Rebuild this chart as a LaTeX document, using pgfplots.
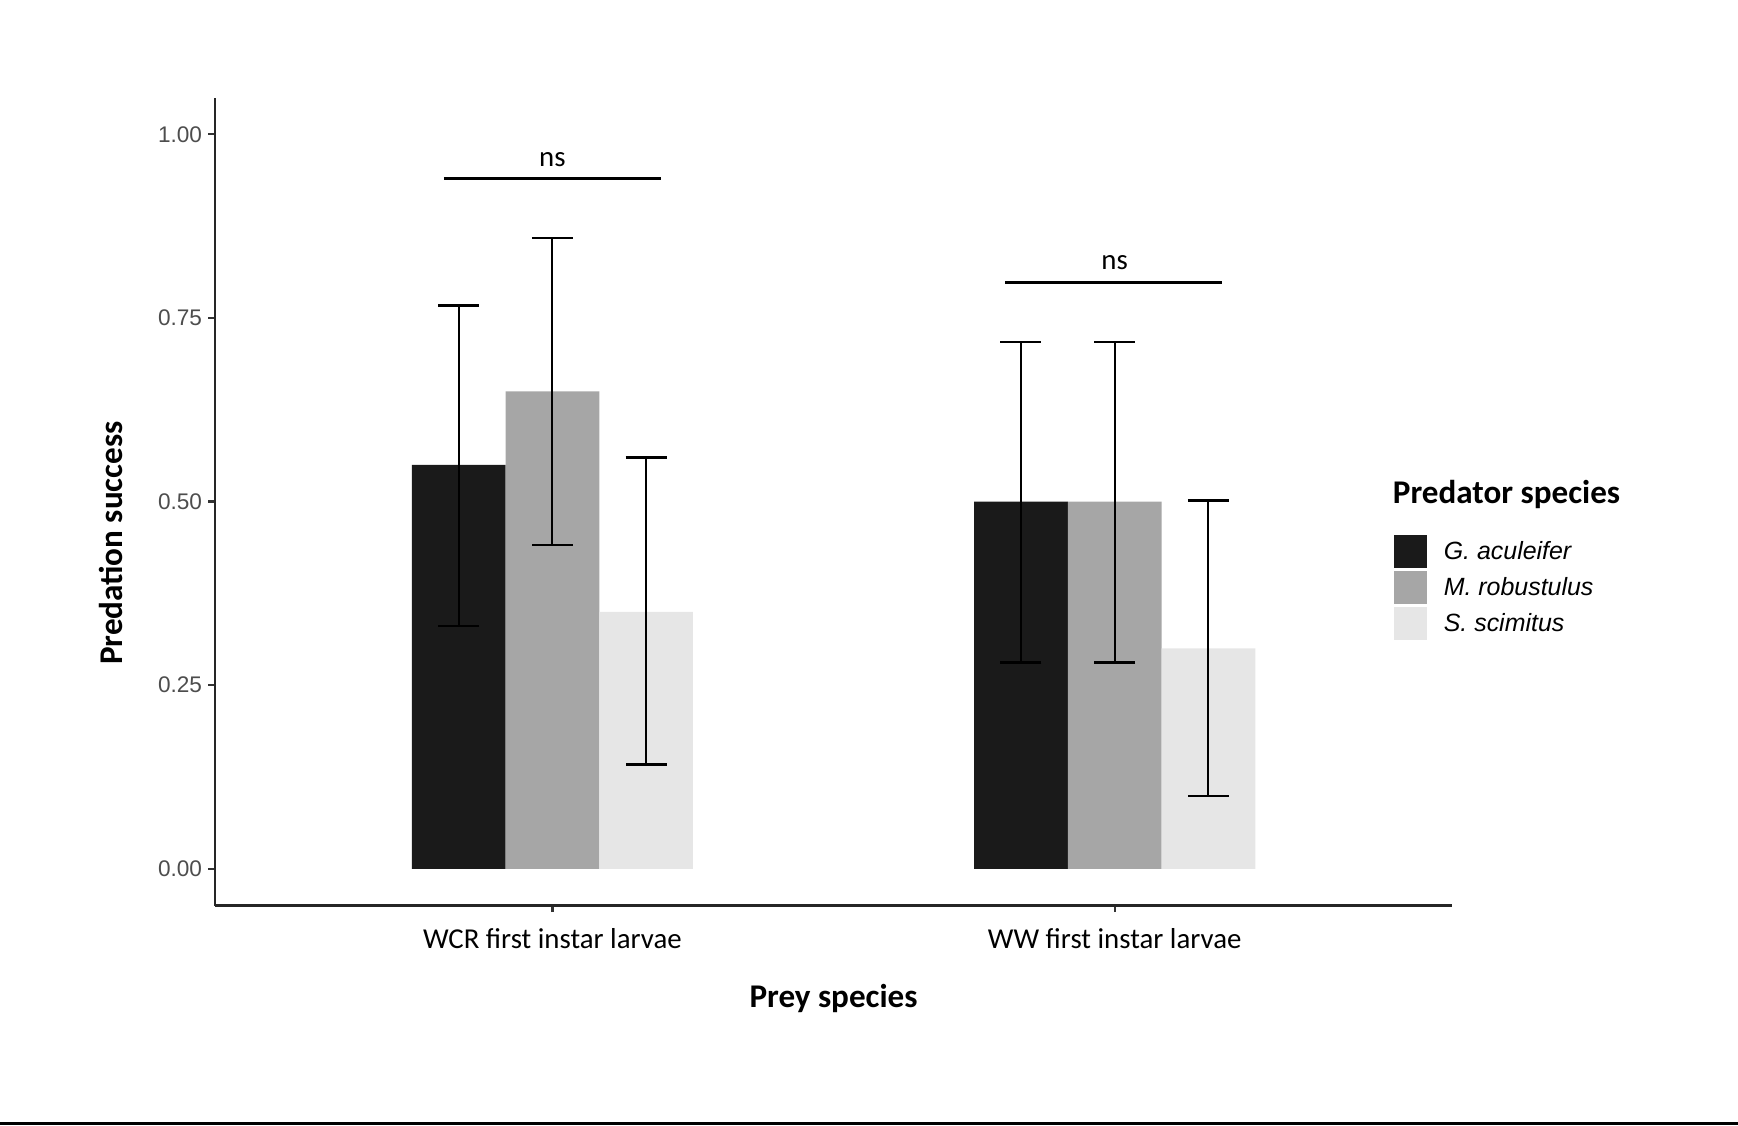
\documentclass[border=0pt]{standalone}
\usepackage{pgfplots}
\pgfplotsset{compat=1.18}
\usepackage{fontspec}
\setmainfont{Carlito}
\newfontfamily\arial{Liberation Sans}
\definecolor{cG}{HTML}{1A1A1A}
\definecolor{cM}{HTML}{A6A6A6}
\definecolor{cS}{HTML}{E6E6E6}
\definecolor{tickgray}{HTML}{4D4D4D}

\pgfplotstableread{
x y ep em
0.83333 0.55 0.217 0.219
1.83333 0.50 0.2175 0.219
}\tabG
\pgfplotstableread{
x y ep em
1 0.65 0.209 0.209
2 0.50 0.2175 0.219
}\tabM
\pgfplotstableread{
x y ep em
1.16667 0.35 0.210 0.208
2.16667 0.30 0.2015 0.2003
}\tabS

\begin{document}
\begin{tikzpicture}[x=1cm,y=1cm]
\useasboundingbox (0,0) rectangle (15.68,10.15);
\draw[black, line width=0.9pt] (0,0.015) -- (15.68,0.015);
\begin{axis}[
  at={(1.94cm,1.98cm)}, anchor=south west,
  scale only axis, width=11.16cm, height=7.29cm,
  xmin=0.4, xmax=2.6, ymin=-0.05, ymax=1.05,
  axis lines=left,
  axis line style={-, line width=0.6pt, black!85},
  xtick={1,2},
  xticklabels={WCR first instar larvae, WW first instar larvae},
  ytick={0,0.25,0.5,0.75,1},
  tick align=outside,
  major tick length=0.06cm,
  tick style={line width=0.6pt, black!80},
  /pgf/number format/.cd, fixed, fixed zerofill, precision=2, assume math mode=true,
  /pgfplots/.cd,
  yticklabel style={font=\arial\fontsize{5.8}{7}\selectfont, text=tickgray, inner sep=0pt, xshift=-0.05cm},
  xticklabel style={font=\fontsize{7.4}{9}\selectfont, text=black, yshift=-0.02cm},
  xlabel={Prey species},
  ylabel={Predation success},
  xlabel style={at={(axis description cs:0.5,-0.1145)}, anchor=center, font=\bfseries\fontsize{8.5}{10}\selectfont},
  ylabel style={at={(axis description cs:-0.0842,0.4486)}, anchor=center, rotate=0, font=\bfseries\fontsize{8.5}{10}\selectfont},
  legend style={at={(axis description cs:0.9426,0.4695)}, anchor=north west, draw=none, fill=none,
    font=\arial\itshape\fontsize{6.4}{7.5}\selectfont, row sep=0.02cm,
    nodes={inner sep=0pt, anchor=west}, column sep=0.15cm},
  legend cell align=left,
  clip=false,
]
\addplot[ybar, bar width=0.16667, bar shift=0, fill=cG, draw=none, forget plot,
  error bars/.cd, y dir=both, y explicit,
  error bar style={line width=0.55pt, black},
  error mark options={rotate=90, line width=0.55pt, black, mark size=0.185cm}]
  table[x=x, y=y, y error plus=ep, y error minus=em] {\tabG};
\addplot[ybar, bar width=0.16667, bar shift=0, fill=cM, draw=none, forget plot,
  error bars/.cd, y dir=both, y explicit,
  error bar style={line width=0.55pt, black},
  error mark options={rotate=90, line width=0.55pt, black, mark size=0.185cm}]
  table[x=x, y=y, y error plus=ep, y error minus=em] {\tabM};
\addplot[ybar, bar width=0.16667, bar shift=0, fill=cS, draw=none, forget plot,
  error bars/.cd, y dir=both, y explicit,
  error bar style={line width=0.55pt, black},
  error mark options={rotate=90, line width=0.55pt, black, mark size=0.185cm}]
  table[x=x, y=y, y error plus=ep, y error minus=em] {\tabS};
% significance lines
\addplot[black, line width=0.75pt, forget plot] coordinates {(0.807,0.94) (1.193,0.94)};
\addplot[black, line width=0.75pt, forget plot] coordinates {(1.805,0.798) (2.191,0.798)};
\node[font=\fontsize{7.4}{9}\selectfont] at (axis cs:1,0.966) {ns};
\node[font=\fontsize{7.4}{9}\selectfont] at (axis cs:2,0.825) {ns};
% legend
\addlegendimage{legend image code/.code={\fill[cG] (0cm,-0.13cm) rectangle (0.29cm,0.16cm);}}
\addlegendentry{G. aculeifer}
\addlegendimage{legend image code/.code={\fill[cM] (0cm,-0.13cm) rectangle (0.29cm,0.16cm);}}
\addlegendentry{M. robustulus}
\addlegendimage{legend image code/.code={\fill[cS] (0cm,-0.13cm) rectangle (0.29cm,0.16cm);}}
\addlegendentry{S. scimitus}
\end{axis}
\node[anchor=west, font=\bfseries\fontsize{8.5}{10}\selectfont, inner sep=0pt] at (12.56,5.69) {Predator species};
\end{tikzpicture}
\end{document}
